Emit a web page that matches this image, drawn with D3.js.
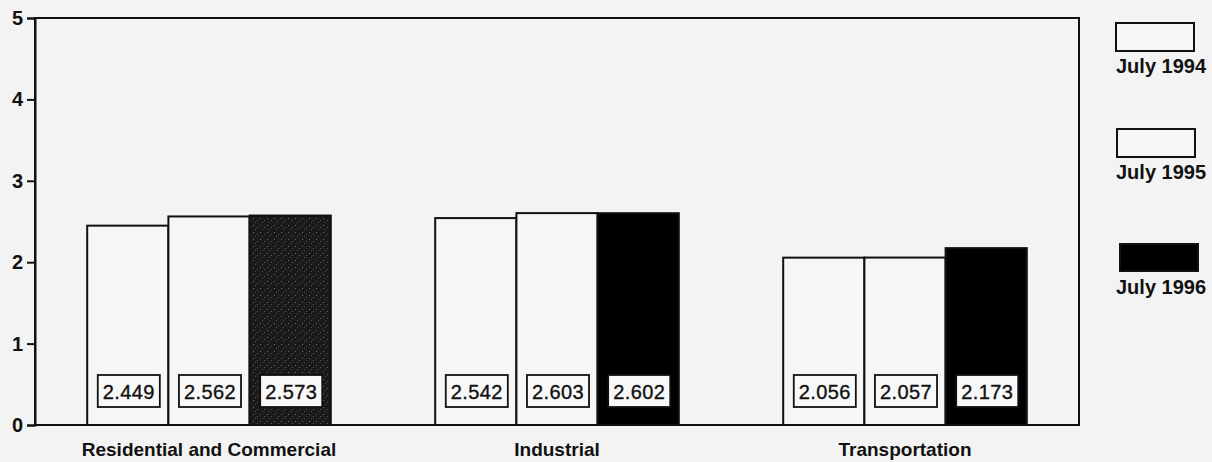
<!DOCTYPE html>
<html>
<head>
<meta charset="utf-8">
<script src="https://cdn.jsdelivr.net/npm/d3@7"></script>
<style>
  html, body { margin: 0; padding: 0; background: #f3f3f3; }
  svg { display: block; }
  text { font-family: "Liberation Sans", Arial, Helvetica, sans-serif; fill: #111; }
</style>
</head>
<body>
<svg id="chart" width="1212" height="462"></svg>
<script>
// ---- data ----
const categories = ["Residential and Commercial", "Industrial", "Transportation"];
const seriesNames = ["July 1994", "July 1995", "July 1996"];
const july1994 = [2.449, 2.542, 2.056];
const july1995 = [2.562, 2.603, 2.057];
const july1996 = [2.573, 2.602, 2.173];
const yTicks = [0, 1, 2, 3, 4, 5];

// ---- layout ----
const plot = { left: 35, right: 1079, top: 18, bottom: 425 };
const seriesValues = [july1994, july1995, july1996];
const seriesFill = ["#f6f6f6", "#f6f6f6", "#000"];

const svg = d3.select("#chart");

const defs = svg.append("defs");
const pat = defs.append("pattern")
  .attr("id", "speckle").attr("patternUnits", "userSpaceOnUse")
  .attr("width", 7).attr("height", 7);
pat.append("rect").attr("width", 7).attr("height", 7).attr("fill", "#1a1a1a");
pat.append("rect").attr("x", 1).attr("y", 1).attr("width", 1).attr("height", 1).attr("fill", "#6a6a6a");
pat.append("rect").attr("x", 5).attr("y", 3).attr("width", 1).attr("height", 1).attr("fill", "#5a5a5a");
pat.append("rect").attr("x", 3).attr("y", 5).attr("width", 1).attr("height", 1).attr("fill", "#505050");

const x0 = d3.scaleBand().domain(categories)
  .range([plot.left, plot.right]).paddingInner(0.3).paddingOuter(0.15);
const x1 = d3.scaleBand().domain(seriesNames).range([0, x0.bandwidth()]).padding(0);
const y = d3.scaleLinear().domain([0, 5]).range([plot.bottom, plot.top]);

// bars
const rows = [];
categories.forEach((c, ci) => {
  seriesNames.forEach((s, si) => {
    rows.push({ c, ci, s, si, v: seriesValues[si][ci] });
  });
});

const g = svg.append("g");
g.selectAll("rect.bar").data(rows).join("rect")
  .attr("class", "bar")
  .attr("x", d => x0(d.c) + x1(d.s))
  .attr("y", d => y(d.v))
  .attr("width", x1.bandwidth())
  .attr("height", d => y(0) - y(d.v))
  .attr("fill", d => (d.si === 2 && d.ci === 0) ? "url(#speckle)" : seriesFill[d.si])
  .attr("stroke", "#111")
  .attr("stroke-width", 2);

// value label boxes
const lab = g.selectAll("g.lab").data(rows).join("g").attr("class", "lab");
lab.each(function(d) {
  const gg = d3.select(this);
  const cx = x0(d.c) + x1(d.s) + x1.bandwidth() / 2 + 1;
  const t = gg.append("text")
    .attr("x", cx).attr("y", y(0) - 26)
    .attr("text-anchor", "middle")
    .attr("font-size", 20)
    .attr("letter-spacing", 0.4)
    .attr("stroke", "#111").attr("stroke-width", 0.35)
    .text(d3.format(".3f")(d.v));
  const bb = t.node().getBBox();
  gg.insert("rect", "text")
    .attr("x", cx - bb.width / 2 - 5)
    .attr("y", y(0) - 50)
    .attr("width", bb.width + 10)
    .attr("height", 32)
    .attr("fill", "#f8f8f8")
    .attr("stroke", "#111")
    .attr("stroke-width", 1.8);
});

// frame
svg.append("path")
  .attr("d", `M${plot.left},${plot.top}H${plot.right}V${plot.bottom}H${plot.left}Z`)
  .attr("fill", "none").attr("stroke", "#111").attr("stroke-width", 2);

// y axis
const yAxis = svg.append("g")
  .attr("transform", `translate(${plot.left},0)`)
  .call(d3.axisLeft(y).tickValues(yTicks).tickSize(8).tickPadding(4).tickFormat(d3.format("d")));
yAxis.select(".domain").attr("stroke", "#111").attr("stroke-width", 2);
yAxis.selectAll(".tick line").attr("stroke", "#111").attr("stroke-width", 2);
yAxis.selectAll(".tick text")
  .attr("font-size", 20).attr("font-weight", "bold")
  .attr("font-family", "Liberation Sans, Arial, sans-serif").attr("fill", "#111");

// x axis category labels
const xAxis = svg.append("g")
  .attr("transform", `translate(0,${plot.bottom})`)
  .call(d3.axisBottom(x0).tickSize(0).tickPadding(18));
xAxis.select(".domain").remove();
xAxis.selectAll(".tick text")
  .attr("font-size", 19).attr("font-weight", "bold")
  .attr("font-family", "Liberation Sans, Arial, sans-serif").attr("fill", "#111");

// legend
const legendY = [23, 129, 244];
const leg = svg.append("g").selectAll("g").data(seriesNames).join("g")
  .attr("transform", (d, i) => `translate(1116,${legendY[i]})`);
leg.append("rect")
  .attr("x", (d, i) => i === 2 ? 4 : (i === 1 ? 1 : 0))
  .attr("width", 78).attr("height", (d, i) => i === 2 ? 27 : 28)
  .attr("fill", (d, i) => seriesFill[i])
  .attr("stroke", "#111").attr("stroke-width", 2);
leg.append("text")
  .attr("x", 0)
  .attr("y", 50)
  .attr("font-size", 20).attr("font-weight", "bold")
  .text(d => d);
</script>
</body>
</html>
